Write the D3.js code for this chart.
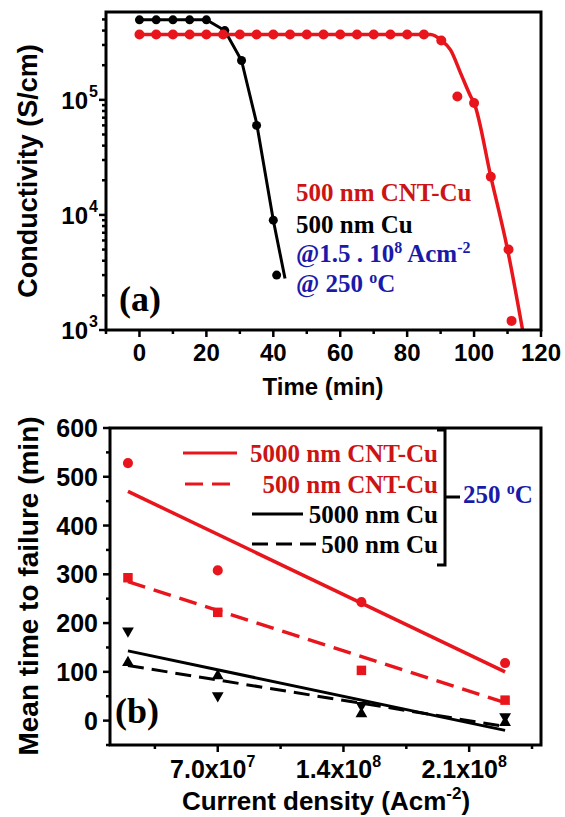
<!DOCTYPE html>
<html>
<head>
<meta charset="utf-8">
<script src="https://cdn.jsdelivr.net/npm/d3@7"></script>
<style>
  body { margin: 0; background: #fff; }
  text { font-family: 'Liberation Sans', Arial, sans-serif; font-weight: bold; }
  .serif { font-family: 'Liberation Serif', 'Times New Roman', serif; }
</style>
</head>
<body>
<div id="canvas"></div>
<script>
// ---- panel (a): conductivity vs time ----
const cuTime = [0, 5, 10, 15, 20, 25.5, 30.5, 35, 40, 41]
const cuCond = [4.96e5, 4.96e5, 4.96e5, 4.96e5, 4.96e5, 4.0e5, 2.2e5, 6.0e4, 9.0e3, 3.0e3]
const cuFitTime = [0, 20, 25.5, 30.5, 35, 40, 43.5]
const cuFitCond = [4.96e5, 4.96e5, 4.0e5, 2.2e5, 6.3e4, 9.0e3, 2.8e3]

const cntTime = [0, 5, 10, 15, 20, 25, 30, 35, 40, 45, 50, 55, 60, 65, 70, 75, 80, 85, 90.2, 95, 100, 105, 110.3, 111.2]
const cntCond = [3.7e5, 3.7e5, 3.7e5, 3.7e5, 3.7e5, 3.7e5, 3.7e5, 3.7e5, 3.7e5, 3.7e5, 3.7e5, 3.7e5,
  3.7e5, 3.7e5, 3.7e5, 3.7e5, 3.7e5, 3.7e5, 3.28e5, 1.07e5, 9.4e4, 2.15e4, 5.0e3, 1.2e3]
const cntFitTime = [0, 87, 90.2, 93, 96, 99, 100, 105, 110, 114.5]
const cntFitCond = [3.7e5, 3.7e5, 3.3e5, 2.7e5, 1.7e5, 1.07e5, 9.4e4, 2.15e4, 5.0e3, 1.0e3]

const timeTicks = [0, 20, 40, 60, 80, 100, 120]
const timeMinor = [-10, 10, 30, 50, 70, 90, 110]
const condTicks = [1e3, 1e4, 1e5]
const condExp = ['3', '4', '5']
const condMinor = [2e3, 3e3, 4e3, 5e3, 6e3, 7e3, 8e3, 9e3, 2e4, 3e4, 4e4, 5e4, 6e4, 7e4, 8e4, 9e4, 2e5, 3e5, 4e5, 5e5]

// ---- panel (b): mean time to failure vs current density ----
const density = [2e7, 7e7, 1.5e8, 2.3e8]
const mttfCnt5000 = [528, 308, 243, 118]
const mttfCnt500 = [293, 222, 103, 42]
const mttfCu5000 = [184, 51, 31, 8]
const mttfCu500 = [119, 92, 14, -4]
const fitDensity = [2e7, 2.3e8]
const fitCnt5000 = [470, 100]
const fitCnt500 = [285, 37]
const fitCu5000 = [143, -20]
const fitCu500 = [113, -12]

const densTicks = [7e7, 1.4e8, 2.1e8]
const densLabels = ['7.0x10', '1.4x10', '2.1x10']
const densExp = ['7', '8', '8']
const densMinor = [3.5e7, 1.05e8, 1.75e8, 2.45e8]
const mttfTicks = [0, 100, 200, 300, 400, 500, 600]
const mttfMinor = [-50, 50, 150, 250, 350, 450, 550]

const legendB = ['5000 nm CNT-Cu', '500 nm CNT-Cu', '5000 nm Cu', '500 nm Cu']

const RED = '#e8161c'
const RED_TXT = '#cc1414'
const BLUE = '#1a1aaa'

const svg = d3.select('#canvas').append('svg')
  .attr('width', 565).attr('height', 817)

function drawTicks(g, scale, values, orient, len) {
  values.forEach((v) => {
    const p = scale(v)
    if (orient === 'left') {
      g.append('line').attr('x1', 0).attr('x2', -len).attr('y1', p).attr('y2', p)
    } else {
      g.append('line').attr('y1', 0).attr('y2', len).attr('x1', p).attr('x2', p)
    }
  })
  g.attr('stroke', '#000').attr('stroke-width', 2.5)
}

// ================= panel (a) =================
const xa = d3.scaleLinear().domain([-10, 120]).range([106, 541])
const ya = d3.scaleLog().domain([1e3, 5.8e5]).range([330, 12])

const ga = svg.append('g')

const lineA = d3.line().x((d) => xa(d[0])).y((d) => ya(d[1]))
ga.append('path')
  .attr('d', lineA(cuFitTime.map((t, i) => [t, cuFitCond[i]])))
  .attr('fill', 'none').attr('stroke', '#000').attr('stroke-width', 3)
ga.append('path')
  .attr('d', lineA.curve(d3.curveMonotoneX)(cntFitTime.map((t, i) => [t, cntFitCond[i]])))
  .attr('fill', 'none').attr('stroke', RED).attr('stroke-width', 3.5)

ga.selectAll('circle.cu').data(cuTime).enter().append('circle')
  .attr('cx', (d) => xa(d)).attr('cy', (d, i) => ya(cuCond[i]))
  .attr('r', 4.5).attr('fill', '#000')
ga.selectAll('circle.cnt').data(cntTime).enter().append('circle')
  .attr('cx', (d) => xa(d)).attr('cy', (d, i) => ya(cntCond[i]))
  .attr('r', 5).attr('fill', RED)

// frame and ticks
ga.append('rect').attr('x', 106).attr('y', 12).attr('width', 435).attr('height', 318)
  .attr('fill', 'none').attr('stroke', '#000').attr('stroke-width', 3)
drawTicks(ga.append('g').attr('transform', 'translate(106,0)'), ya, condTicks, 'left', 7)
drawTicks(ga.append('g').attr('transform', 'translate(106,0)'), ya, condMinor, 'left', 4)
drawTicks(ga.append('g').attr('transform', 'translate(0,330)'), xa, timeTicks, 'bottom', 7)
drawTicks(ga.append('g').attr('transform', 'translate(0,330)'), xa, timeMinor, 'bottom', 4)

timeTicks.forEach((v) => {
  ga.append('text').attr('x', xa(v)).attr('y', 361).attr('text-anchor', 'middle')
    .attr('font-size', 24).text(v)
})
condTicks.forEach((v, i) => {
  ga.append('text').attr('x', 88).attr('y', ya(v) + 9).attr('text-anchor', 'end')
    .attr('font-size', 24).text('10')
  ga.append('text').attr('x', 89).attr('y', ya(v) - 3).attr('font-size', 16).text(condExp[i])
})

ga.append('text').attr('transform', 'translate(37,171) rotate(-90)')
  .attr('text-anchor', 'middle').attr('font-size', 27).text('Conductivity (S/cm)')
ga.append('text').attr('x', 323).attr('y', 395)
  .attr('text-anchor', 'middle').attr('font-size', 24).text('Time (min)')

ga.append('text').attr('class', 'serif').attr('x', 119).attr('y', 311)
  .attr('font-size', 36).text('(a)')

const legA = ga.append('g').attr('font-size', 25)
legA.append('text').attr('class', 'serif').attr('x', 296).attr('y', 201).attr('fill', RED_TXT).text('500 nm CNT-Cu')
legA.append('text').attr('class', 'serif').attr('x', 296).attr('y', 233).attr('fill', '#000').text('500 nm Cu')
const la3 = legA.append('text').attr('class', 'serif').attr('x', 296).attr('y', 262).attr('fill', BLUE)
la3.append('tspan').text('@1.5 . 10')
la3.append('tspan').attr('dy', -9).attr('font-size', 16).text('8')
la3.append('tspan').attr('dy', 9).text(' Acm')
la3.append('tspan').attr('dy', -9).attr('font-size', 16).text('-2')
const la4 = legA.append('text').attr('class', 'serif').attr('x', 296).attr('y', 292).attr('fill', BLUE)
la4.append('tspan').text('@ 250 ')
la4.append('tspan').attr('dy', -9).attr('font-size', 16).text('o')
la4.append('tspan').attr('dy', 9).text('C')

// ================= panel (b) =================
const xb = d3.scaleLinear().domain([1e7, 2.5e8]).range([110, 541])
const yb = d3.scaleLinear().domain([-50, 600]).range([745, 428])

const gb = svg.append('g')
const lineB = d3.line().x((d) => xb(d[0])).y((d) => yb(d[1]))
const fits = [
  [fitCnt5000, RED, null, 3.5],
  [fitCnt500, RED, '18,9', 3.5],
  [fitCu5000, '#000', null, 3],
  [fitCu500, '#000', '16,8', 3],
]
fits.forEach(([vals, col, dash, w]) => {
  gb.append('path')
    .attr('d', lineB(fitDensity.map((x, i) => [x, vals[i]])))
    .attr('fill', 'none').attr('stroke', col).attr('stroke-width', w)
    .attr('stroke-dasharray', dash)
})

const sym = (type, size) => d3.symbol().type(type).size(size)()
const markers = [
  [mttfCnt5000, RED, d3.symbolCircle, 80, 0],
  [mttfCnt500, RED, d3.symbolSquare, 90, 0],
  [mttfCu5000, '#000', d3.symbolTriangle, 60, 180],
  [mttfCu500, '#000', d3.symbolTriangle, 60, 0],
]
markers.forEach(([vals, col, type, size, rot]) => {
  gb.append('g').selectAll('path').data(density).enter().append('path')
    .attr('d', sym(type, size))
    .attr('transform', (d, i) => `translate(${xb(d)},${yb(vals[i])}) rotate(${rot})`)
    .attr('fill', col)
})

gb.append('rect').attr('x', 110).attr('y', 428).attr('width', 431).attr('height', 317)
  .attr('fill', 'none').attr('stroke', '#000').attr('stroke-width', 3)
drawTicks(gb.append('g').attr('transform', 'translate(110,0)'), yb, mttfTicks, 'left', 7)
drawTicks(gb.append('g').attr('transform', 'translate(110,0)'), yb, mttfMinor, 'left', 4)
drawTicks(gb.append('g').attr('transform', 'translate(0,745)'), xb, densTicks, 'bottom', 7)
drawTicks(gb.append('g').attr('transform', 'translate(0,745)'), xb, densMinor, 'bottom', 4)

mttfTicks.forEach((v) => {
  gb.append('text').attr('x', 98).attr('y', yb(v) + 9).attr('text-anchor', 'end')
    .attr('font-size', 25).text(v)
})
densTicks.forEach((v, i) => {
  const t = gb.append('text').attr('x', xb(v) - 5).attr('y', 778).attr('text-anchor', 'middle')
    .attr('font-size', 25)
  t.append('tspan').text(densLabels[i])
  t.append('tspan').attr('dy', -11).attr('font-size', 16).text(densExp[i])
})

gb.append('text').attr('transform', 'translate(38,586) rotate(-90)')
  .attr('text-anchor', 'middle').attr('font-size', 28).text('Mean time to failure (min)')
const xt = gb.append('text').attr('x', 326).attr('y', 810)
  .attr('text-anchor', 'middle').attr('font-size', 26)
xt.append('tspan').text('Current density (Acm')
xt.append('tspan').attr('dy', -11).attr('font-size', 17).text('-2')
xt.append('tspan').attr('dy', 11).text(')')

gb.append('text').attr('class', 'serif').attr('x', 115).attr('y', 723)
  .attr('font-size', 36).text('(b)')

// legend (b)
const legY = [462, 493, 523, 553]
const legCol = [RED_TXT, RED_TXT, '#000', '#000']
legendB.forEach((s, i) => {
  gb.append('text').attr('class', 'serif').attr('x', 438).attr('y', legY[i])
    .attr('text-anchor', 'end').attr('font-size', 25).attr('fill', legCol[i]).text(s)
})
const legLines = [[183, 237, RED, null], [185, 237, RED, '18,9'], [252, 303, '#000', null], [252, 318, '#000', '16,8']]
legLines.forEach(([x1, x2, col, dash], i) => {
  gb.append('line').attr('x1', x1).attr('x2', x2)
    .attr('y1', legY[i] - 9).attr('y2', legY[i] - 9)
    .attr('stroke', col).attr('stroke-width', 3).attr('stroke-dasharray', dash)
})
gb.append('path').attr('d', 'M437,430 H445 V565 H437 M445,497 H460')
  .attr('fill', 'none').attr('stroke', '#000').attr('stroke-width', 3)
const t250 = gb.append('text').attr('class', 'serif').attr('x', 463).attr('y', 503)
  .attr('font-size', 25).attr('fill', BLUE)
t250.append('tspan').text('250 ')
t250.append('tspan').attr('dy', -9).attr('font-size', 16).text('o')
t250.append('tspan').attr('dy', 9).text('C')
</script>
</body>
</html>
